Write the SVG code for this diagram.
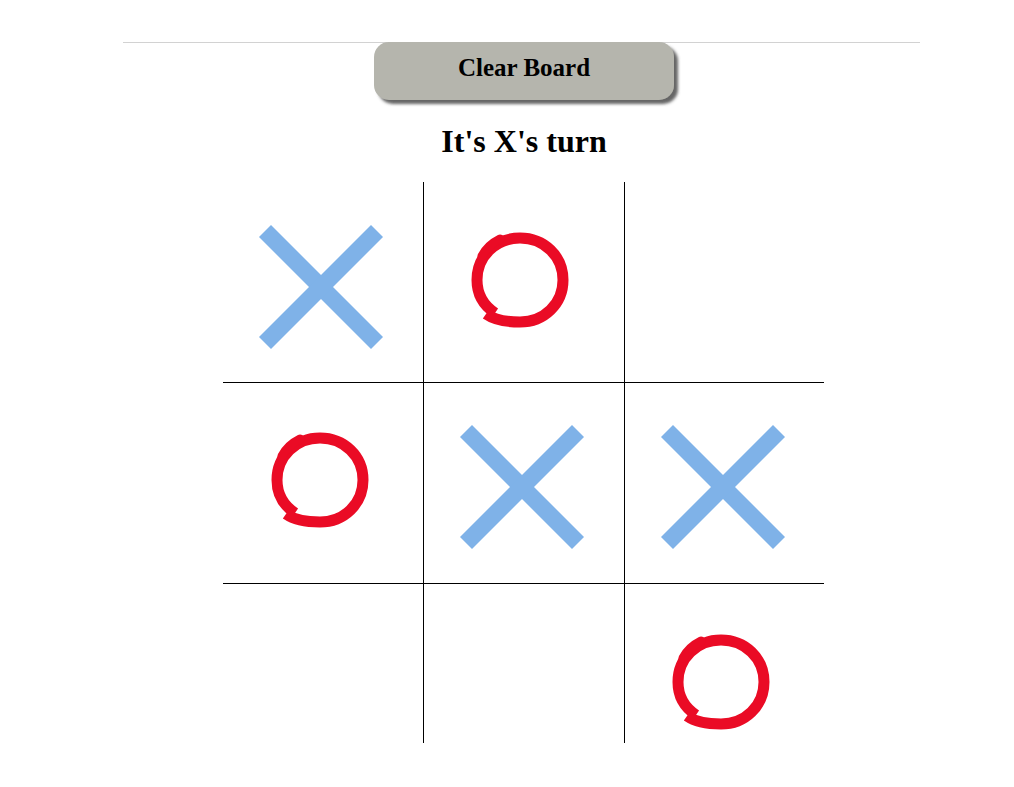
<svg xmlns="http://www.w3.org/2000/svg" xmlns:xlink="http://www.w3.org/1999/xlink" width="1014" height="787" viewBox="0 0 1014 787">
<style>
.grid{stroke:#000;stroke-width:1;fill:none}
.xmark{stroke:#7fb2e8;stroke-width:17;stroke-linecap:butt;fill:none}
.omark{stroke:#ea0b25;stroke-width:11;stroke-linecap:butt;stroke-linejoin:round;fill:none}
.btntxt{font-family:"Liberation Serif","Times New Roman",serif;font-weight:bold;font-size:25px;fill:#000}
.title{font-family:"Liberation Serif","Times New Roman",serif;font-weight:bold;font-size:32px;fill:#000}
</style>
<defs>
<filter id="shadow" x="-10%" y="-20%" width="130%" height="160%">
<feGaussianBlur in="SourceAlpha" stdDeviation="1.5"/>
<feOffset dx="4" dy="4" result="b"/>
<feFlood flood-color="#555" flood-opacity="0.9"/>
<feComposite in2="b" operator="in"/>
<feMerge><feMergeNode/><feMergeNode in="SourceGraphic"/></feMerge>
</filter>
<g id="X"><line class="xmark" x1="-56" y1="-56" x2="56" y2="56"/><line class="xmark" x1="56" y1="-56" x2="-56" y2="56"/></g>
<g id="O">
<path class="omark" d="M -34,34 C -24,41 -12,42 0,42 C 24,42 43,24 43,0 C 43,-24 24,-42 0,-42 C -24,-42 -43,-24 -43,0 C -43,14 -37,25 -25,33"/>
<path class="omark" style="stroke-width:9;stroke-linecap:round" d="M -38,-24 C -34,-32 -28,-37 -20,-41"/>
</g>
</defs>
<rect width="1014" height="787" fill="#fff"/>
<line x1="123" y1="42.5" x2="920" y2="42.5" stroke="#d2d2d2" stroke-width="1"/>
<g id="clear-board">
<rect x="374" y="42" width="300" height="58" rx="15" ry="15" fill="#b5b5ad" filter="url(#shadow)"/>
<text class="btntxt" x="524" y="76" text-anchor="middle">Clear Board</text>
</g>
<g id="status"><text class="title" x="524" y="152" text-anchor="middle">It's X's turn</text></g>
<g id="connectors">
<line class="grid" x1="423.5" y1="182" x2="423.5" y2="743"/>
<line class="grid" x1="624.5" y1="182" x2="624.5" y2="743"/>
<line class="grid" x1="223" y1="382.5" x2="824" y2="382.5"/>
<line class="grid" x1="223" y1="583.5" x2="824" y2="583.5"/>
</g>
<g id="cell0"><use xlink:href="#X" x="321" y="287"/></g>
<g id="cell1"><use xlink:href="#O" x="520" y="280"/></g>
<g id="cell3"><use xlink:href="#O" x="320" y="480"/></g>
<g id="cell4"><use xlink:href="#X" x="522" y="487"/></g>
<g id="cell5"><use xlink:href="#X" x="723" y="487"/></g>
<g id="cell8"><use xlink:href="#O" x="721" y="682"/></g>
</svg>
